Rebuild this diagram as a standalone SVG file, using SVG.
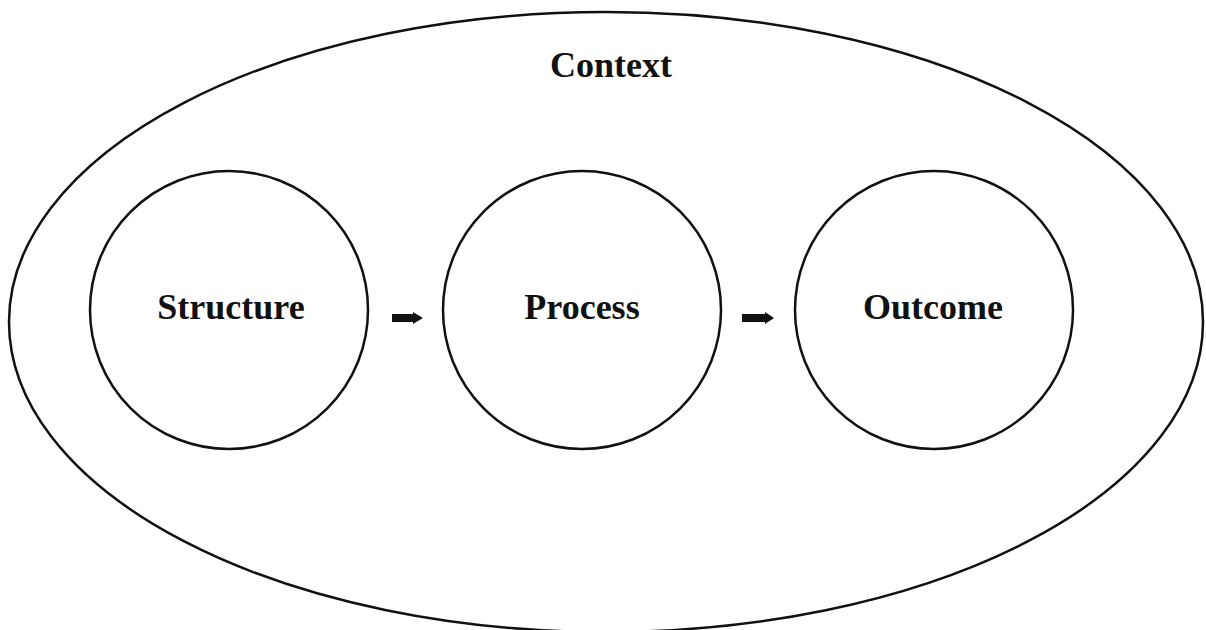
<svg xmlns="http://www.w3.org/2000/svg" width="1206" height="630" viewBox="0 0 1206 630">
<style>
.shape{fill:none;stroke:#111;stroke-width:2.5}
.lbl{font-family:"Liberation Serif","Times New Roman",serif;font-weight:bold;font-size:36px;fill:#111;text-anchor:middle}
.arr{fill:#111}
</style>
<rect width="1206" height="630" fill="#fff"/>
<g id="context">
<ellipse class="shape" cx="606" cy="322" rx="597" ry="310"/>
<text class="lbl" x="611" y="77">Context</text>
</g>
<g id="structure">
<circle class="shape" cx="229" cy="310" r="139"/>
<text class="lbl" x="231" y="319">Structure</text>
</g>
<g id="process">
<circle class="shape" cx="582" cy="310" r="139"/>
<text class="lbl" x="582" y="319">Process</text>
</g>
<g id="outcome">
<circle class="shape" cx="934" cy="310" r="139"/>
<text class="lbl" x="933" y="319">Outcome</text>
</g>
<g id="connectors">
<path class="arr" d="M392,314 H413 V312 L423,318 L413,324 V322 H392 Z"/>
<path class="arr" d="M742,314 H765 V312 L774,318 L765,324 V322 H742 Z"/>
</g>
</svg>
